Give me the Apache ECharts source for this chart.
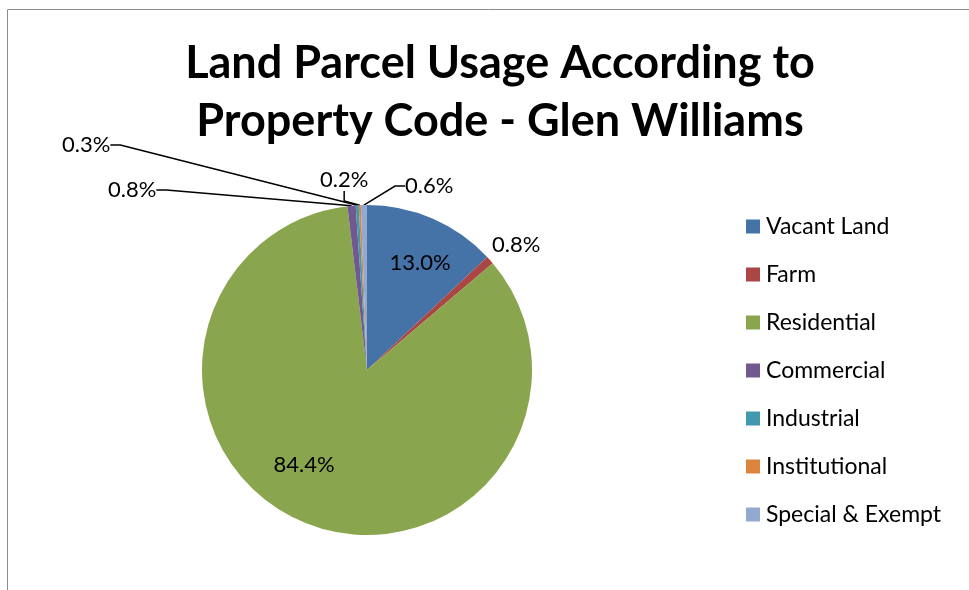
<!DOCTYPE html>
<html>
<head>
<meta charset="utf-8">
<script src="https://cdn.jsdelivr.net/npm/echarts@6/dist/echarts.min.js"></script>
<style>
    html, body { margin: 0; padding: 0; background: #fff; }
    #chart { width: 969px; height: 590px; }
</style>
</head>
<body>
<div id="chart"></div>
<script>
// categories and values (percent)
var categories = ['Vacant Land', 'Farm', 'Residential', 'Commercial', 'Industrial', 'Institutional', 'Special & Exempt'];
var shares = [13.0, 0.8, 84.4, 0.8, 0.3, 0.2, 0.6];
var colors = ['#4572A7', '#AA4643', '#89A54E', '#71588F', '#4198AF', '#DB843D', '#93A9CF'];

var fontName = 'Lato, "Open Sans", sans-serif';

// where the labels sit, like Excel placed them: [x, y, align]
var labelSpots = {
    0: [420, 263, 'center'],
    1: [492, 245, 'left'],
    2: [304, 465, 'center'],
    3: [108, 190, 'left'],
    4: [62, 145, 'left'],
    5: [320, 180, 'left'],
    6: [405, 186, 'left']
};

var pieData = categories.map(function (name, i) {
    var big = shares[i] > 5;
    return {
        name: name,
        value: shares[i],
        label: big ? { position: 'inner' } : { position: 'outside' },
        labelLine: { show: !big && i !== 1 }
    };
});

var chart = echarts.init(document.getElementById('chart'));
chart.setOption({
    color: colors,
    animation: false,
    title: {
        text: 'Land Parcel Usage According to\nProperty Code - Glen Williams',
        left: 495,
        textAlign: 'center',
        top: 29,
        textStyle: {
            fontFamily: fontName,
            fontWeight: 'bold',
            fontSize: 45,
            lineHeight: 58,
            color: '#000'
        }
    },
    legend: {
        orient: 'vertical',
        left: 741,
        top: 210,
        itemWidth: 14,
        itemHeight: 14,
        itemGap: 25,
        icon: 'rect',
        data: categories,
        textStyle: { fontFamily: fontName, fontSize: 23, color: '#000', padding: [0, 0, 0, 1] }
    },
    graphic: [{
        type: 'polyline',
        shape: { points: [[7.5, 590], [7.5, 9.5], [969, 9.5]] },
        style: { stroke: '#8c8c8c', lineWidth: 1, fill: null }
    }],
    series: [{
        type: 'pie',
        center: [367, 370],
        radius: 165,
        startAngle: 90,
        clockwise: true,
        minAngle: 0,
        avoidLabelOverlap: false,
        itemStyle: { borderWidth: 0 },
        label: {
            formatter: function (p) { return p.value.toFixed(1) + '%'; },
            fontFamily: fontName,
            fontSize: 22,
            color: '#000'
        },
        labelLine: {
            length: 10,
            length2: 10,
            lineStyle: { color: '#000', width: 1.5 }
        },
        labelLayout: function (params) {
            var spot = labelSpots[params.dataIndex];
            if (!spot) return {};
            return { x: spot[0], y: spot[1], align: spot[2], verticalAlign: 'middle' };
        },
        data: pieData
    }]
});
</script>
</body>
</html>
